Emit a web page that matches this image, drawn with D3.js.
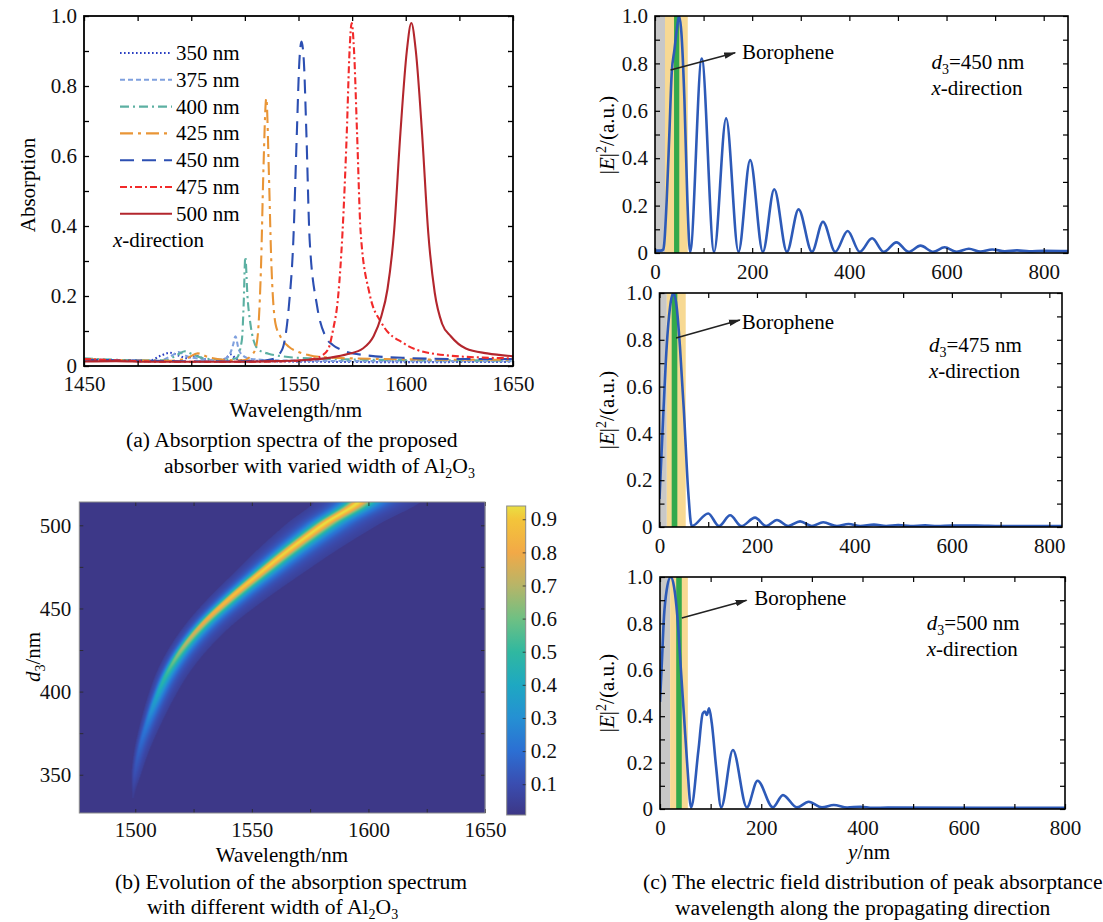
<!DOCTYPE html>
<html><head><meta charset="utf-8">
<script src="https://cdn.jsdelivr.net/npm/d3@7"></script>
<style>
body{margin:0;background:#fff;}
svg{display:block;font-family:"Liberation Serif","Times New Roman",serif;}
</style></head><body>
<svg id="fig" width="1103" height="922"></svg>
<script>
// ---------- (a) absorption spectra for each Al2O3 width: [wavelength nm, absorption] ----------
const widthLabels = ["350 nm","375 nm","400 nm","425 nm","450 nm","475 nm","500 nm"];
const spec350 = [[1450,0.018],[1465,0.015],[1480,0.014],[1486,0.03],[1490,0.038],[1494,0.03],[1498,0.022],[1502,0.03],[1506,0.02],[1512,0.014],[1516,0.022],[1518.5,0.033],[1521,0.02],[1525,0.016],[1535,0.014],[1560,0.012],[1600,0.011],[1650,0.012]];
const spec375 = [[1450,0.02],[1470,0.016],[1485,0.015],[1491,0.03],[1494,0.04],[1498,0.028],[1505,0.02],[1512,0.016],[1517,0.025],[1519.5,0.06],[1520.6,0.085],[1522,0.05],[1524,0.03],[1528,0.02],[1540,0.016],[1580,0.014],[1650,0.014]];
const spec400 = [[1450,0.022],[1470,0.017],[1488,0.016],[1493,0.03],[1497,0.042],[1501,0.032],[1506,0.022],[1515,0.018],[1521,0.022],[1523.6,0.074],[1524.4,0.17],[1525.2,0.312],[1526.2,0.2],[1527.6,0.12],[1529,0.074],[1531.5,0.046],[1536,0.035],[1542,0.028],[1555,0.022],[1600,0.017],[1650,0.016]];
const spec425 = [[1450,0.02],[1470,0.016],[1490,0.015],[1498,0.022],[1503,0.036],[1508,0.025],[1515,0.018],[1524,0.016],[1528,0.03],[1530,0.05],[1531.4,0.12],[1532.6,0.3],[1533.6,0.55],[1535,0.765],[1536.2,0.55],[1537.2,0.32],[1539.3,0.12],[1541.5,0.085],[1545.5,0.055],[1550,0.04],[1555,0.031],[1565,0.024],[1590,0.02],[1620,0.018],[1650,0.018]];
const spec450 = [[1450,0.018],[1480,0.015],[1510,0.013],[1530,0.014],[1538,0.02],[1542.3,0.046],[1545.5,0.17],[1547.6,0.36],[1549.2,0.66],[1550.4,0.87],[1551.4,0.927],[1552.5,0.87],[1553.7,0.66],[1555.2,0.36],[1558.7,0.17],[1562.6,0.084],[1566,0.06],[1570,0.046],[1581,0.031],[1600,0.023],[1625,0.02],[1650,0.02]];
const spec475 = [[1450,0.02],[1470,0.015],[1490,0.012],[1520,0.012],[1540,0.013],[1552,0.016],[1558,0.022],[1561,0.03],[1564,0.05],[1566,0.1],[1568.5,0.2],[1570.5,0.38],[1572.5,0.665],[1573.8,0.9],[1574.8,0.98],[1575.9,0.9],[1577.3,0.665],[1579,0.38],[1583,0.21],[1589,0.12],[1599,0.065],[1612,0.036],[1636,0.024],[1650,0.022]];
const spec500 = [[1450,0.013],[1465,0.014],[1480,0.012],[1500,0.012],[1520,0.012],[1540,0.014],[1555,0.018],[1565,0.024],[1573,0.034],[1580,0.05],[1585,0.085],[1588.5,0.14],[1591.5,0.22],[1594.5,0.38],[1597.5,0.665],[1600.5,0.9],[1602.6,0.98],[1604.7,0.9],[1607.6,0.665],[1610.5,0.38],[1613.5,0.21],[1617,0.12],[1621,0.085],[1628,0.05],[1638,0.036],[1650,0.028]];
const spectra = [spec350, spec375, spec400, spec425, spec450, spec475, spec500];

// ---------- (b) absorption ridge versus d3: rows read along the band (every 15 nm of d3) ----------
const heatD3     = [336, 351, 366, 381, 396, 411, 426, 441, 456, 471, 486, 501, 516];
const heatCenter = [1499, 1499.8, 1501.8, 1505, 1508.8, 1513.5, 1520, 1528.9, 1540.3, 1553.1, 1566.5, 1581, 1597];
const heatPeak   = [0.04, 0.11, 0.17, 0.25, 0.38, 0.52, 0.68, 0.8, 0.88, 0.92, 0.93, 0.94, 0.94];
const heatLeft   = [0.3, 1.3, 2.0, 2.8, 3.6, 4.5, 5.5, 7, 9, 11, 13.5, 16, 19];        // band extent below the ridge (nm)
const heatRight  = [0.5, 2.8, 4.6, 6.2, 7.8, 9.5, 11.5, 13.5, 16, 18.5, 21, 24, 27];  // band extent above the ridge (nm)
const colorTicks = [0.1,0.2,0.3,0.4,0.5,0.6,0.7,0.8,0.9];

// ---------- (c) |E|^2 along y for three widths: [y nm, |E|^2] ----------
const field450 = [[0,0.01],[12,0.01],[17,0.015],[19,0.04],[24,0.22],[29.5,0.5],[34.4,0.76],[40,0.857],[44.7,0.94],[49.5,1.0],[54.3,0.93],[60.5,0.65],[66.7,0.22],[72.2,0.005],[96.2,0.82],[121.6,0.005],[146.4,0.568],[171.8,0.005],[195.9,0.392],[222,0.005],[245.4,0.269],[271.5,0.005],[295.5,0.184],[323,0.005],[345.7,0.132],[371,0.005],[396.5,0.093],[421.3,0.005],[446.8,0.062],[470.7,0.005],[496.9,0.045],[522.3,0.005],[546.4,0.031],[572.5,0.005],[596,0.024],[621,0.005],[646,0.018],[670,0.006],[694,0.015],[720,0.007],[745,0.011],[770,0.007],[800,0.009],[850,0.008]];
const field475 = [[0,0.12],[7.9,0.486],[14.7,0.77],[21.6,0.94],[28.4,1.0],[35.3,0.94],[42,0.77],[50.3,0.486],[59.2,0.144],[66,0.004],[100,0.058],[122,0.004],[145,0.05],[168,0.004],[196,0.04],[219,0.004],[241,0.03],[264,0.004],[288.5,0.024],[312.5,0.004],[336,0.02],[364,0.004],[388,0.013],[412,0.004],[440,0.01],[465,0.004],[490,0.008],[515,0.004],[545,0.007],[570,0.004],[600,0.006],[650,0.006],[700,0.004],[826,0.004]];
const field500 = [[0,0.462],[3.3,0.613],[7.9,0.83],[13.2,0.944],[21.1,1.0],[27.7,0.958],[34.3,0.83],[40.9,0.613],[47.5,0.398],[54.1,0.182],[61.4,0.007],[75.9,0.254],[84.5,0.412],[89,0.42],[92.4,0.405],[97,0.434],[102.3,0.37],[110.9,0.18],[120.8,0.007],[144,0.254],[171.6,0.007],[192.7,0.122],[223,0.007],[242.9,0.06],[270.6,0.007],[293.7,0.031],[320,0.007],[343.2,0.017],[369.7,0.006],[396,0.01],[420,0.005],[450,0.006],[800,0.005]];
// layer bounds along y (nm): substrate, Al2O3 spacer, borophene
const layers450 = {sub:[0,20.6], spacer:[20.6,67.4], boro:[39.2,50]};
const layers475 = {sub:[0,15], spacer:[15,53.8], boro:[25,36.6]};
const layers500 = {sub:[0,20], spacer:[20,55], boro:[32,43]};
const fieldWidths = ["450","475","500"];

// ---------------------------------------------------------------------------
const FS = 21, FSC = 21.6;
const svg = d3.select("#fig");
svg.append("rect").attr("width",1103).attr("height",922).attr("fill","#fff");
const defs = svg.append("defs");
defs.append("marker").attr("id","arrow").attr("viewBox","0 0 12 8").attr("refX",11).attr("refY",4)
  .attr("markerWidth",12).attr("markerHeight",8).attr("markerUnits","userSpaceOnUse").attr("orient","auto")
  .append("path").attr("d","M0,0.8 L12,4 L0,7.2 Z").attr("fill","#222");

// inward ticks on all four sides, labels on bottom/left
function frame(g, x, y, o) {
  const yb = y.range()[0], yt = y.range()[1], xl = x.range()[0], xr = x.range()[1];
  const L = o.len;
  const style = sel => { sel.select(".domain").remove();
    sel.attr("font-family",null).attr("font-size",FS);
    sel.selectAll("line").attr("stroke",o.tickColor).attr("stroke-width",o.tickWidth);
    sel.selectAll("text").attr("fill","#111"); };
  const xAll = o.xMajor.concat(o.xMinor||[]), yAll = o.yMajor.concat(o.yMinor||[]);
  g.append("g").attr("transform",`translate(0,${yb})`)
    .call(d3.axisBottom(x).tickValues(o.xMajor).tickFormat(o.xFmt).tickSizeInner(-L).tickSizeOuter(0).tickPadding(o.xPad)).call(style);
  g.append("g").attr("transform",`translate(0,${yb})`)
    .call(d3.axisBottom(x).tickValues(o.xMinor||[]).tickFormat("").tickSizeInner(-L).tickSizeOuter(0)).call(style);
  g.append("g").attr("transform",`translate(0,${yt})`)
    .call(d3.axisTop(x).tickValues(xAll).tickFormat("").tickSizeInner(-L).tickSizeOuter(0)).call(style);
  g.append("g").attr("transform",`translate(${xl},0)`)
    .call(d3.axisLeft(y).tickValues(o.yMajor).tickFormat(o.yFmt).tickSizeInner(-L).tickSizeOuter(0).tickPadding(o.yPad)).call(style);
  g.append("g").attr("transform",`translate(${xl},0)`)
    .call(d3.axisLeft(y).tickValues(o.yMinor||[]).tickFormat("").tickSizeInner(-L).tickSizeOuter(0)).call(style);
  g.append("g").attr("transform",`translate(${xr},0)`)
    .call(d3.axisRight(y).tickValues(yAll).tickFormat("").tickSizeInner(-L).tickSizeOuter(0)).call(style);
  g.append("rect").attr("x",xl).attr("y",yt).attr("width",xr-xl).attr("height",yb-yt)
    .attr("fill","none").attr("stroke",o.frameColor).attr("stroke-width",o.frameWidth);
}
const fmtY = v => v === 0 ? "0" : d3.format(".1f")(v);
function subText(sel, parts) {
  // parts: [text, mode] where mode is "", "i" (italic), "sub", "sup"
  let shift = 0;
  parts.forEach(([t, m]) => {
    const ts = sel.append("tspan").text(t);
    let target = 0;
    if (m === "i") ts.attr("font-style","italic");
    if (m === "sub") { ts.attr("font-size",14); target = 5; }
    if (m === "sup") { ts.attr("font-size",14); target = -8; }
    if (target !== shift) { ts.attr("dy", target - shift); shift = target; }
  });
}

// ======================= (a) =======================
const gA = svg.append("g");
const xA = d3.scaleLinear().domain([1450,1650]).range([84,513]);
const yA = d3.scaleLinear().domain([0,1]).range([366,16]);
defs.append("clipPath").attr("id","clipA").append("rect").attr("x",84).attr("y",16).attr("width",429).attr("height",350);
const specStyle = [
  {color:"#2a3fc2", dash:"1.6,2.4"},
  {color:"#7fa0de", dash:"5,3"},
  {color:"#5cb0a2", dash:"9,4,2,4"},
  {color:"#e99536", dash:"13,5,3,5"},
  {color:"#2c4fb2", dash:"14,8"},
  {color:"#f22a2a", dash:"7,3,2,3"},
  {color:"#b3262d", dash:null}
];
const lineA = d3.line().x(d=>xA(d[0])).y(d=>yA(d[1])).curve(d3.curveMonotoneX);
const gLines = gA.append("g").attr("clip-path","url(#clipA)");
spectra.forEach((s,i)=>{
  gLines.append("path").datum(s).attr("d",lineA).attr("fill","none")
    .attr("stroke",specStyle[i].color).attr("stroke-width",2.1)
    .attr("stroke-dasharray",specStyle[i].dash);
});
frame(gA, xA, yA, {xMajor:d3.range(1450,1651,50), xMinor:d3.range(1475,1650,50), yMajor:[0,0.2,0.4,0.6,0.8,1.0],
  yMinor:[0.1,0.3,0.5,0.7,0.9], xFmt:d3.format("d"), yFmt:fmtY, len:5, xPad:10, yPad:7,
  tickColor:"#000", tickWidth:1.3, frameColor:"#000", frameWidth:1.8});
// legend
const leg = gA.append("g");
widthLabels.forEach((lab,i)=>{
  const yy = 53 + i*26.8;
  leg.append("line").attr("x1",120).attr("x2",172).attr("y1",yy).attr("y2",yy)
    .attr("stroke",specStyle[i].color).attr("stroke-width",2.1).attr("stroke-dasharray",specStyle[i].dash);
  leg.append("text").attr("x",176).attr("y",yy+7).attr("font-size",FS).text(lab);
});
subText(leg.append("text").attr("x",113).attr("y",247).attr("font-size",FS), [["x","i"],["-direction",""]]);
gA.append("text").attr("transform","translate(35,185) rotate(-90)").attr("text-anchor","middle").attr("font-size",FS).text("Absorption");
gA.append("text").attr("x",296).attr("y",417).attr("text-anchor","middle").attr("font-size",FS).text("Wavelength/nm");
gA.append("text").attr("x",126).attr("y",447).attr("font-size",FSC).text("(a) Absorption spectra of the proposed");
subText(gA.append("text").attr("x",164).attr("y",473).attr("font-size",FSC),
  [["absorber with varied width of Al",""],["2","sub"],["O",""],["3","sub"]]);

// ======================= (b) =======================
const gB = svg.append("g");
const xB = d3.scaleLinear().domain([1476,1650]).range([79.3,485]);
const yB = d3.scaleLinear().domain([327,514]).range([813,502]);
const cStops  = [0.007,0.1,0.2,0.3,0.4,0.5,0.6,0.7,0.8,0.9,0.94];
const cColors = ["#3d3786","#3a4db0","#2c6fd3","#2590d3","#1ea8c2","#30b8a0","#6fc083","#b7b568","#f2a947","#f3c53a","#eadf42"];
const cScale = d3.scaleLinear().domain(cStops).range(cColors).clamp(true);
const bgVal = 0.012, edgeVal = 0.05;
// smooth (Catmull-Rom) reading of the evenly spaced rows
function rowValue(arr, u) {
  const n = arr.length, i = Math.max(0, Math.min(n-2, Math.floor(u))), t = Math.min(1, u - i);
  const p0 = arr[Math.max(0,i-1)], p1 = arr[i], p2 = arr[i+1], p3 = arr[Math.min(n-1,i+2)];
  const t2 = t*t, t3 = t2*t;
  return 0.5*((2*p1) + (-p0+p2)*t + (2*p0-5*p1+4*p2-p3)*t2 + (-p0+3*p1-3*p2+p3)*t3);
}
function rowAt(d) {
  if (d < heatD3[0]) return null;
  const u = (d - heatD3[0]) / (heatD3[1] - heatD3[0]);
  return {c:rowValue(heatCenter,u), a:rowValue(heatPeak,u), wl:Math.max(0.2,rowValue(heatLeft,u)), wr:Math.max(0.3,rowValue(heatRight,u))};
}
function absAt(lam, d) {
  const r = rowAt(d);
  if (!r) return bgVal;
  const dist = lam - r.c, w = dist < 0 ? r.wl : r.wr;
  if (Math.abs(dist) > w) return bgVal;
  const g = w / Math.sqrt(Math.max(r.a/edgeVal - 1, 1));
  return Math.max(bgVal, r.a / (1 + (dist/g)*(dist/g)));
}
{
  const X0 = 79.3, Y0 = 502, W = Math.round(485 - X0), H = Math.round(813 - Y0);
  const SS = 2;
  const cv = document.createElement("canvas"); cv.width = W*SS; cv.height = H*SS;
  const ctx = cv.getContext("2d"); const img = ctx.createImageData(W*SS, H*SS);
  const lo = cStops[0], hi = cStops[cStops.length-1];
  const lut = d3.range(512).map(k => d3.rgb(cScale(lo + (hi-lo)*k/511)));
  for (let j=0;j<H*SS;j++){
    const d = yB.invert(Y0 + (j+0.5)/SS);
    for (let i=0;i<W*SS;i++){
      const lam = xB.invert(X0 + (i+0.5)/SS);
      const v = absAt(lam, d);
      let k = Math.round((v - lo)/(hi-lo)*511);
      k = Math.max(0, Math.min(511, k));
      const c = lut[k], p = (j*W*SS + i)*4;
      img.data[p]=c.r; img.data[p+1]=c.g; img.data[p+2]=c.b; img.data[p+3]=255;
    }
  }
  ctx.putImageData(img,0,0);
  gB.append("image").attr("x",X0).attr("y",Y0).attr("width",W).attr("height",H)
    .attr("preserveAspectRatio","none").attr("href", cv.toDataURL());
}
frame(gB, xB, yB, {xMajor:[1500,1550,1600,1650], xMinor:[1525,1575,1625], yMajor:[350,400,450,500], yMinor:[375,425,475],
  xFmt:d3.format("d"), yFmt:d3.format("d"), len:4, xPad:9, yPad:8,
  tickColor:"#2a2a2a", tickWidth:0.9, frameColor:"#8a8a8a", frameWidth:1});
// colorbar
const cbY = d3.scaleLinear().domain([cStops[0], cStops[cStops.length-1]]).range([815,506]);
const grad = defs.append("linearGradient").attr("id","cbGrad").attr("x1",0).attr("x2",0).attr("y1",1).attr("y2",0);
cStops.forEach((s,i)=>grad.append("stop").attr("offset",(s-cStops[0])/(cStops[cStops.length-1]-cStops[0])).attr("stop-color",cColors[i]));
gB.append("rect").attr("x",506.7).attr("y",506).attr("width",19).attr("height",309).attr("fill","url(#cbGrad)")
  .attr("stroke","#8a8a8a").attr("stroke-width",1);
const cbAxis = gB.append("g").attr("transform","translate(525.7,0)")
  .call(d3.axisRight(cbY).tickValues(colorTicks).tickFormat(d3.format(".1f")).tickSizeInner(-3).tickSizeOuter(0).tickPadding(5));
cbAxis.select(".domain").remove();
cbAxis.attr("font-family",null).attr("font-size",FS);
cbAxis.selectAll("line").attr("stroke","#2a2a2a").attr("stroke-width",0.8);
cbAxis.selectAll("text").attr("fill","#111");
subText(gB.append("text").attr("transform","translate(40,657) rotate(-90)").attr("text-anchor","middle").attr("font-size",FS),
  [["d","i"],["3","sub"],["/nm",""]]);
gB.append("text").attr("x",282).attr("y",862).attr("text-anchor","middle").attr("font-size",FS).text("Wavelength/nm");
gB.append("text").attr("x",115).attr("y",889).attr("font-size",FSC).text("(b) Evolution of the absorption spectrum");
subText(gB.append("text").attr("x",147).attr("y",914).attr("font-size",FSC),
  [["with different width of Al",""],["2","sub"],["O",""],["3","sub"]]);

// ======================= (c) =======================
const panelsC = [
  {data:field450, layers:layers450, w:fieldWidths[0], xd:[0,850], xr:[655,1068], yr:[253,16], labY:135,
   arrow:[[32,0.772],[165,0.845]], boro:[179,0.819], note:[569,0.776]},
  {data:field475, layers:layers475, w:fieldWidths[1], xd:[0,826], xr:[659.5,1062], yr:[527,293], labY:410,
   arrow:[[34,0.808],[165,0.885]], boro:[169,0.846], note:[553,0.748]},
  {data:field500, layers:layers500, w:fieldWidths[2], xd:[0,800], xr:[660,1065], yr:[809,577], labY:693,
   arrow:[[43,0.823],[171,0.9]], boro:[186,0.879], note:[527,0.772]}
];
panelsC.forEach((p,k)=>{
  const g = svg.append("g");
  const x = d3.scaleLinear().domain(p.xd).range(p.xr);
  const y = d3.scaleLinear().domain([0,1]).range(p.yr);
  const top = p.yr[1], hgt = p.yr[0]-p.yr[1];
  const band = (r,col)=>g.append("rect").attr("x",x(r[0])).attr("y",top).attr("width",x(r[1])-x(r[0])).attr("height",hgt).attr("fill",col);
  band(p.layers.sub,"#c8c8c8");
  band(p.layers.spacer,"#f7d993");
  band(p.layers.boro,"#33a94b");
  const cid = "clipC"+k;
  defs.append("clipPath").attr("id",cid).append("rect").attr("x",p.xr[0]).attr("y",top).attr("width",p.xr[1]-p.xr[0]).attr("height",hgt);
  g.append("path").datum(p.data).attr("clip-path",`url(#${cid})`)
    .attr("d", d3.line().x(d=>x(d[0])).y(d=>y(d[1])).curve(d3.curveMonotoneX))
    .attr("fill","none").attr("stroke","#2d5ab8").attr("stroke-width",2.6).attr("stroke-linejoin","round");
  frame(g, x, y, {xMajor:[0,200,400,600,800], xMinor:[100,300,500,700].filter(v=>v<p.xd[1]), yMajor:[0,0.2,0.4,0.6,0.8,1.0],
    yMinor:[0.1,0.3,0.5,0.7,0.9], xFmt:d3.format("d"), yFmt:fmtY, len:5, xPad:11, yPad:7,
    tickColor:"#000", tickWidth:1.2, frameColor:"#000", frameWidth:1.6});
  // annotations
  g.append("line").attr("x1",x(p.arrow[0][0])).attr("y1",y(p.arrow[0][1])).attr("x2",x(p.arrow[1][0])).attr("y2",y(p.arrow[1][1]))
    .attr("stroke","#222").attr("stroke-width",1.6).attr("marker-end","url(#arrow)");
  g.append("text").attr("x",x(p.boro[0])).attr("y",y(p.boro[1])).attr("font-size",FS).text("Borophene");
  subText(g.append("text").attr("x",x(p.note[0])).attr("y",y(p.note[1])).attr("font-size",FS),
    [["d","i"],["3","sub"],["=" + p.w + " nm",""]]);
  subText(g.append("text").attr("x",x(p.note[0])).attr("y",y(p.note[1]) + 26).attr("font-size",FS),
    [["x","i"],["-direction",""]]);
  subText(g.append("text").attr("transform",`translate(614,${p.labY}) rotate(-90)`).attr("text-anchor","middle").attr("font-size",FS),
    [["|",""],["E","i"],["|",""],["2","sup"],["/(a.u.)",""]]);
});
subText(svg.append("text").attr("x",869).attr("y",859).attr("text-anchor","middle").attr("font-size",FS), [["y","i"],["/nm",""]]);
svg.append("text").attr("x",643).attr("y",889).attr("font-size",FSC).text("(c) The electric field distribution of peak absorptance");
svg.append("text").attr("x",675).attr("y",915).attr("font-size",FSC).text("wavelength along the propagating direction");
</script>
</body></html>
